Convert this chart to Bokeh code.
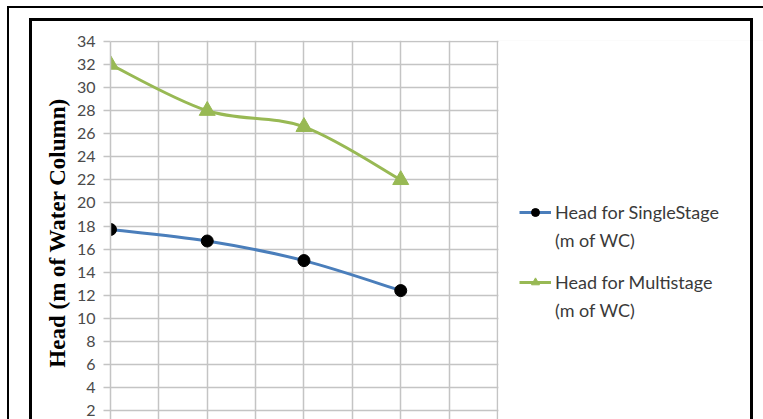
from bokeh.plotting import figure
from bokeh.models import (Range1d, FixedTicker, Legend, LegendItem, BoxAnnotation,
                          ColumnDataSource, InlineStyleSheet)
from bokeh.embed import file_html
from bokeh.resources import INLINE

# Chart data
flow_pos = [0, 2, 4, 6]
head_single = [17.7, 16.7, 15.0, 12.4]
head_multi = [32.0, 28.0, 26.6, 22.0]
y_ticks = list(range(0, 36, 2))
x_grid_ticks = list(range(0, 9))
x_axis_end = 8

SINGLE_LABEL = "Head for SingleStage"
MULTI_LABEL = "Head for Multistage"
UNIT_LABEL = "(m of WC)"
BLUE = "#4A7EBB"
GREEN = "#98B954"
GRID = "#C4C4C4"


def smooth_segments(xs, ys):
    """Cubic Bezier segments through the points (spreadsheet-style smoothed line)."""
    n = len(xs)
    seg = dict(x0=[], y0=[], x1=[], y1=[], cx0=[], cy0=[], cx1=[], cy1=[])
    for i in range(n - 1):
        a = max(i - 1, 0)
        b = min(i + 2, n - 1)
        seg["x0"].append(xs[i]); seg["y0"].append(ys[i])
        seg["x1"].append(xs[i + 1]); seg["y1"].append(ys[i + 1])
        seg["cx0"].append(xs[i] + (xs[i + 1] - xs[a]) / 6.0)
        seg["cy0"].append(ys[i] + (ys[i + 1] - ys[a]) / 6.0)
        seg["cx1"].append(xs[i + 1] - (xs[b] - xs[i]) / 6.0)
        seg["cy1"].append(ys[i + 1] - (ys[b] - ys[i]) / 6.0)
    return ColumnDataSource(seg)


# the frame runs to the right edge; the legend lives in the blank part right of x = 8
p = figure(width=763, height=419,
           x_range=Range1d(0, 13.5), y_range=Range1d(1.22, 34.09),
           output_backend="svg", toolbar_location=None,
           x_axis_location=None,
           min_border_left=110, min_border_right=0,
           min_border_top=40, min_border_bottom=0)
p.outline_line_color = None
p.background_fill_color = "white"
p.border_fill_color = "white"

# grid
p.xgrid.ticker = FixedTicker(ticks=x_grid_ticks)
p.xgrid.grid_line_color = GRID
p.xgrid.grid_line_width = 1.5
p.ygrid.ticker = FixedTicker(ticks=y_ticks)
p.ygrid.grid_line_color = GRID
p.ygrid.grid_line_width = 1.5

# blank out the grid beyond the last x gridline and above the top tick
p.add_layout(BoxAnnotation(left=x_axis_end + 0.02, fill_color="white", fill_alpha=1,
                           line_color=None, level="underlay"))
p.add_layout(BoxAnnotation(bottom=y_ticks[-1] + 0.05, fill_color="white", fill_alpha=1,
                           line_color=None, level="underlay"))

# y axis
yax = p.yaxis[0]
yax.ticker = FixedTicker(ticks=y_ticks)
yax.bounds = (0, y_ticks[-1])
yax.axis_line_color = GRID
yax.axis_line_width = 1.5
yax.major_tick_line_color = GRID
yax.major_tick_line_width = 1.5
yax.major_tick_out = 7
yax.major_tick_in = 0
yax.minor_tick_line_color = None
yax.major_label_standoff = 8
yax.major_label_text_font = "Lato"
yax.major_label_text_font_size = "16px"
yax.major_label_text_color = "#4A4A4A"
yax.axis_label = "Head (m of  Water Column)"
yax.axis_label_text_font = "Liberation Serif"
yax.axis_label_text_font_style = "bold"
yax.axis_label_text_font_size = "23px"
yax.axis_label_text_color = "black"
yax.axis_label_standoff = 4

# series
multi_src = smooth_segments(flow_pos, head_multi)
single_src = smooth_segments(flow_pos, head_single)
p.bezier(x0="x0", y0="y0", x1="x1", y1="y1", cx0="cx0", cy0="cy0", cx1="cx1", cy1="cy1",
         source=multi_src, line_color=GREEN, line_width=3)
p.bezier(x0="x0", y0="y0", x1="x1", y1="y1", cx0="cx0", cy0="cy0", cx1="cx1", cy1="cy1",
         source=single_src, line_color=BLUE, line_width=3)
multi_pts = p.scatter(flow_pos, head_multi, marker="triangle", size=16,
                      fill_color=GREEN, line_color=GREEN)
single_pts = p.scatter(flow_pos, head_single, marker="circle", size=12,
                       fill_color="black", line_color="black")

# legend swatch lines (a single point draws no visible line)
single_key = p.line(x=flow_pos[:1], y=head_single[:1], line_color=BLUE, line_width=3)
multi_key = p.line(x=flow_pos[:1], y=head_multi[:1], line_color=GREEN, line_width=3)


def style_legend(lg):
    lg.border_line_color = None
    lg.background_fill_alpha = 0
    lg.padding = 0
    lg.margin = 0
    lg.spacing = 48
    lg.glyph_width = 32
    lg.glyph_height = 20
    lg.label_standoff = 4
    lg.label_text_font = "Lato"
    lg.label_text_font_size = "18px"
    lg.label_text_color = "#3A3A3A"
    lg.label_height = 20


# series names with their swatches
legend = Legend(items=[
    LegendItem(label=SINGLE_LABEL, renderers=[single_key, single_pts]),
    LegendItem(label=MULTI_LABEL, renderers=[multi_key, multi_pts]),
], location=(409, 126))
style_legend(legend)
p.add_layout(legend)

# second line of each legend entry
units = Legend(items=[
    LegendItem(label=UNIT_LABEL, renderers=[]),
    LegendItem(label=UNIT_LABEL, renderers=[]),
], location=(409, 98))
style_legend(units)
p.add_layout(units)

# page frame lines around the chart
p.stylesheets = [InlineStyleSheet(css="""
:host::before {
  content: ""; position: absolute; left: 7px; top: 6px;
  width: 756px; height: 413px; box-sizing: border-box;
  border-left: 2px solid #000; border-top: 2px solid #000;
  pointer-events: none; z-index: 10;
}
:host::after {
  content: ""; position: absolute; left: 29px; top: 18px;
  width: 724px; height: 401px; box-sizing: border-box;
  border: 3px solid #000; border-bottom: none;
  pointer-events: none; z-index: 10;
}
""")]

open("out.html", "w").write(file_html(p, INLINE))
